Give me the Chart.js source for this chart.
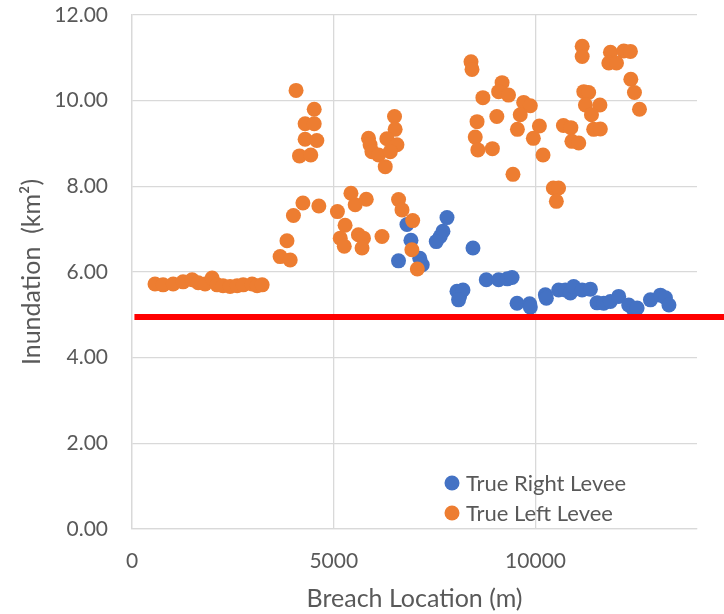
<!DOCTYPE html>
<html>
<head>
<meta charset="utf-8">
<script src="https://cdn.jsdelivr.net/npm/chart.js@4.4.0/dist/chart.umd.min.js"></script>
<style>
  html, body { margin: 0; padding: 0; background: #ffffff; }
  canvas { display: block; }
</style>
</head>
<body>
<canvas id="chart" width="724" height="614"></canvas>
<script>
// Breach location (m) and resulting inundation area (km²) for each levee
const rightLeveeX = [
  6813, 6912, 6604, 7130, 7192, 7805, 7705, 7638, 7539, 8449,
  8053, 8117, 8201, 8092, 8779, 9084, 9300, 9417, 9541, 9853,
  9870, 10242, 10267, 10572, 10738, 10862, 10944, 11153, 11358, 11524,
  11689, 11854, 12060, 12308, 12432, 12516, 12846, 13094, 13218, 13305
];
const rightLeveeY = [
  7.11, 6.74, 6.26, 6.32, 6.17, 7.27, 6.95, 6.83, 6.71, 6.56,
  5.55, 5.43, 5.58, 5.35, 5.82, 5.82, 5.84, 5.87, 5.27, 5.26,
  5.18, 5.47, 5.39, 5.58, 5.58, 5.51, 5.66, 5.58, 5.60, 5.28,
  5.27, 5.31, 5.43, 5.23, 5.12, 5.16, 5.35, 5.46, 5.40, 5.23
];

const leftLeveeX = [
  570, 770, 1020, 1265, 1490, 1640, 1810, 1985, 2110, 2255, 2430, 2605, 2755, 2975, 3100, 3225,
  3670, 3920, 3840, 4000, 4235, 4630, 4065, 4515, 4290, 4515, 4290, 4580, 4150, 4430,
  5090, 5425, 5530, 5805, 5280, 5160, 5260, 5610, 5735, 5700, 6195, 6605, 6690, 6955, 6935, 7070,
  6505, 6520, 5860, 5900, 6315, 6565, 5945, 6110, 6400, 6275,
  8400, 8425, 8695, 9170, 9085, 9330, 9705, 9870, 8550, 9040, 9620, 9550, 8505, 8570, 8930,
  10095, 9945, 10185, 9440, 10440, 10570, 10515, 10690, 10875, 10900, 11070,
  11155, 11155, 11195, 11315, 11235, 11595, 11385, 11440, 11605,
  11855, 12185, 12350, 11815, 12005, 12360, 12450, 12575
];
const leftLeveeY = [
  5.72, 5.70, 5.72, 5.77, 5.82, 5.75, 5.72, 5.86, 5.70, 5.68, 5.66, 5.68, 5.70, 5.72, 5.68, 5.70,
  6.36, 6.28, 6.73, 7.32, 7.61, 7.54, 10.24, 9.80, 9.46, 9.46, 9.10, 9.07, 8.71, 8.73,
  7.41, 7.84, 7.57, 7.70, 7.09, 6.79, 6.60, 6.87, 6.79, 6.56, 6.83, 7.69, 7.45, 7.20, 6.52, 6.07,
  9.63, 9.33, 9.12, 8.97, 9.11, 8.97, 8.81, 8.73, 8.81, 8.46,
  10.91, 10.73, 10.07, 10.42, 10.21, 10.13, 9.96, 9.88, 9.51, 9.63, 9.67, 9.33, 9.15, 8.85, 8.88,
  9.41, 9.12, 8.73, 8.28, 7.96, 7.96, 7.65, 9.42, 9.37, 9.05, 9.01,
  11.27, 11.03, 10.21, 10.19, 9.90, 9.90, 9.67, 9.33, 9.34,
  11.13, 11.16, 11.15, 10.88, 10.88, 10.50, 10.19, 9.80
];

// Reference level drawn as a horizontal red line
const thresholdY = 4.95;
const thresholdSpanX = [60, 14800];

const seriesNames = ['True Right Levee', 'True Left Levee'];
const xTicks = [0, 5000, 10000];
const yTicks = [0, 2, 4, 6, 8, 10, 12];

const BLUE = '#4472C4';
const ORANGE = '#ED7D31';
const TEXT = '#595959';
const GRID = '#d9d9d9';
const FONT = 'Lato';

const toPoints = (xs, ys) => xs.map((x, i) => ({ x: x, y: ys[i] }));

// Legend placed inside the plot, near the bottom
const insideLegend = {
  id: 'insideLegend',
  afterDraw(chart) {
    const { ctx, chartArea } = chart;
    const items = chart.data.datasets.filter(ds => !ds.hideInLegend);
    ctx.save();
    items.forEach((ds, i) => {
      const cx = chartArea.left + 320;
      const cy = chartArea.bottom - 46 + i * 30;
      ctx.beginPath();
      ctx.arc(cx, cy, 7.5, 0, Math.PI * 2);
      ctx.fillStyle = ds.backgroundColor;
      ctx.fill();
      ctx.font = '22px ' + FONT;
      ctx.fillStyle = TEXT;
      ctx.textBaseline = 'middle';
      ctx.textAlign = 'left';
      ctx.fillText(ds.label, cx + 14, cy + 1);
    });
    ctx.restore();
  }
};

function draw() {
  const ctx = document.getElementById('chart').getContext('2d');
  new Chart(ctx, {
    type: 'scatter',
    data: {
      datasets: [
        {
          label: seriesNames[0],
          data: toPoints(rightLeveeX, rightLeveeY),
          backgroundColor: BLUE,
          borderColor: BLUE,
          borderWidth: 0,
          pointRadius: 7.5,
          pointHoverRadius: 7.5,
          order: 2
        },
        {
          label: seriesNames[1],
          data: toPoints(leftLeveeX, leftLeveeY),
          backgroundColor: ORANGE,
          borderColor: ORANGE,
          borderWidth: 0,
          pointRadius: 7.5,
          pointHoverRadius: 7.5,
          order: 1
        },
        {
          label: 'threshold',
          hideInLegend: true,
          data: thresholdSpanX.map(x => ({ x: x, y: thresholdY })),
          showLine: true,
          borderColor: '#ff0000',
          backgroundColor: '#ff0000',
          borderWidth: 6,
          pointRadius: 0,
          pointHoverRadius: 0,
          clip: false,
          order: 0
        }
      ]
    },
    options: {
      responsive: false,
      animation: false,
      devicePixelRatio: 1,
      layout: { padding: { top: 15, right: 27, left: 0, bottom: 0 } },
      plugins: {
        legend: { display: false },
        tooltip: { enabled: false }
      },
      scales: {
        x: {
          type: 'linear',
          min: 0,
          max: 14000,
          afterBuildTicks: s => { s.ticks = xTicks.map(v => ({ value: v })); },
          afterFit: s => { s.height = 85; s.paddingLeft = 0; s.paddingRight = 0; },
          grid: { color: GRID, lineWidth: 1.3, drawTicks: false },
          border: { color: GRID, width: 1.3 },
          ticks: {
            padding: 20,
            color: TEXT,
            maxRotation: 0,
            font: { family: FONT, size: 21 },
            callback: v => String(v)
          },
          title: {
            display: true,
            text: 'Breach Location (m)',
            color: TEXT,
            font: { family: FONT, size: 25 },
            padding: { top: 0, bottom: 0 }
          }
        },
        y: {
          type: 'linear',
          min: 0,
          max: 12,
          afterBuildTicks: s => { s.ticks = yTicks.map(v => ({ value: v })); },
          afterFit: s => { s.width = 132; s.paddingTop = 0; s.paddingBottom = 0; },
          grid: { color: GRID, lineWidth: 1.3, drawTicks: false },
          border: { color: GRID, width: 1.3 },
          ticks: {
            padding: 24,
            color: TEXT,
            font: { family: FONT, size: 21 },
            callback: v => Number(v).toFixed(2)
          },
          title: {
            display: true,
            text: 'Inundation  (km²)',
            color: TEXT,
            font: { family: FONT, size: 25 },
            padding: { top: 17, bottom: 0 }
          }
        }
      }
    },
    plugins: [insideLegend]
  });
}

if (document.fonts && document.fonts.load) {
  Promise.all([
    document.fonts.load('21px ' + FONT),
    document.fonts.load('25px ' + FONT)
  ]).then(draw, draw);
} else {
  draw();
}
</script>
</body>
</html>
